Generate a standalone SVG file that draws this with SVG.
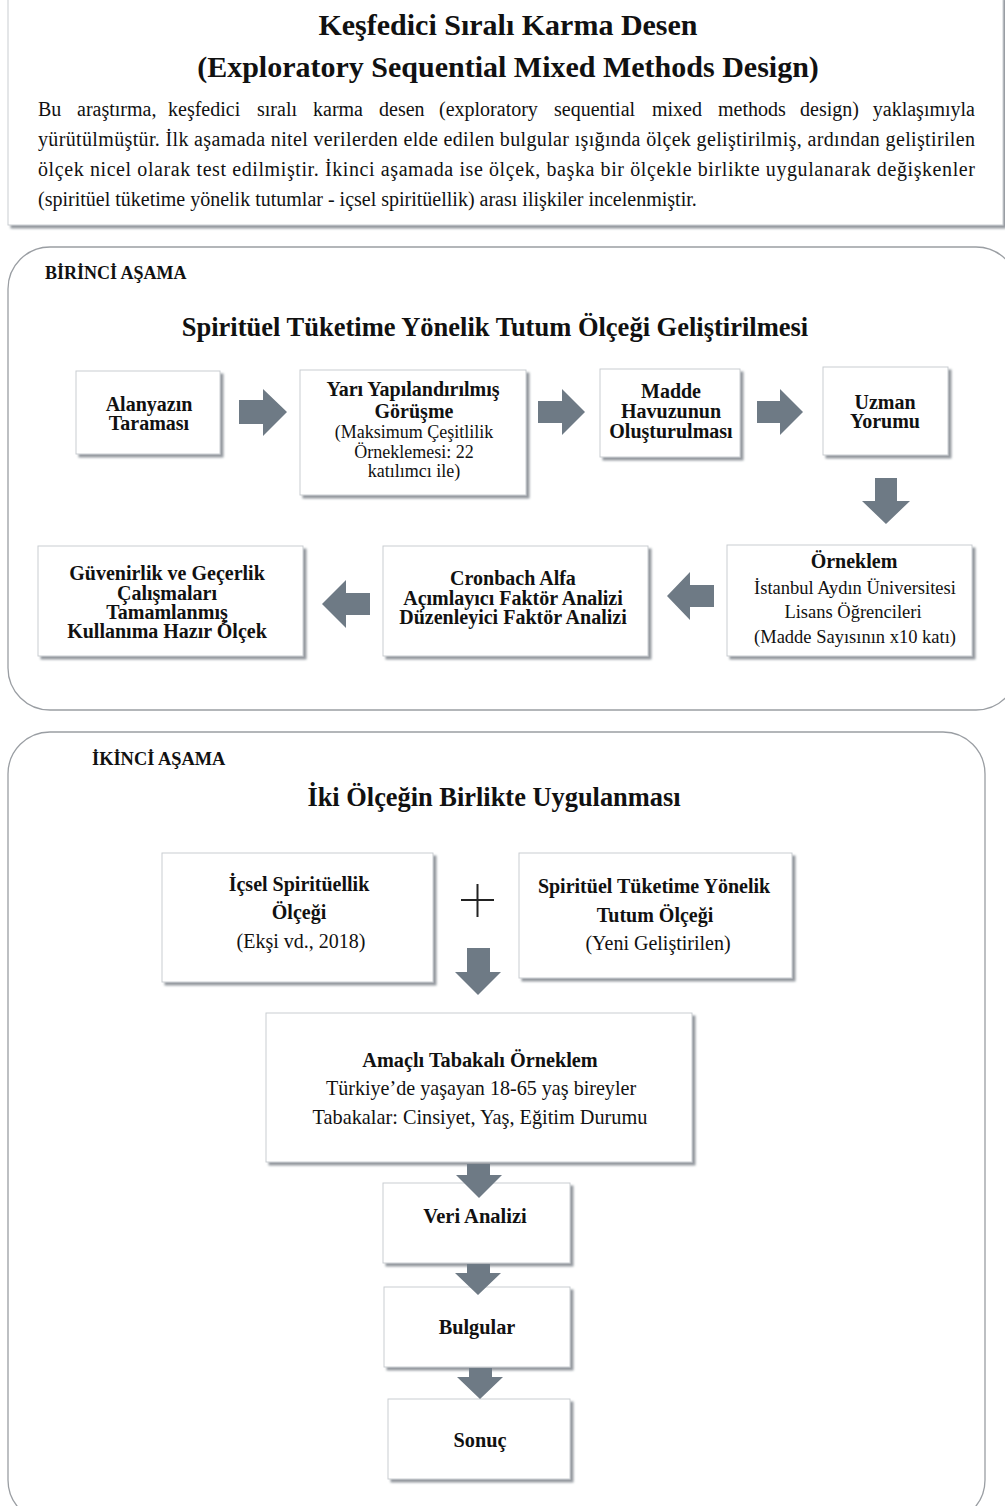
<svg xmlns="http://www.w3.org/2000/svg" width="1005" height="1506" viewBox="0 0 1005 1506">
<defs>
<filter id="sh" x="-5%" y="-5%" width="115%" height="120%">
<feDropShadow dx="3" dy="3" stdDeviation="1" flood-color="#6f7780" flood-opacity="0.75"/>
</filter>
<style>
.t{font-family:"Liberation Serif","Times New Roman",serif;fill:#111}
.b{font-weight:bold}
.c{text-anchor:middle}
.box{fill:#fff;stroke:#c9cdd1;stroke-width:1;filter:url(#sh)}
.panel{fill:#fff;stroke:#9a9ea3;stroke-width:1.3}
.arr{fill:#6e7a85}
</style>
</defs>
<rect width="1005" height="1506" fill="#fff"/>

<g id="header">
<rect class="box" x="8" y="-4" width="995" height="229"/>
<text class="t b c" x="508" y="35" font-size="30">Keşfedici Sıralı Karma Desen</text>
<text class="t b c" x="508" y="77" font-size="30">(Exploratory Sequential Mixed Methods Design)</text>
<text class="t" y="116" font-size="20"><tspan x="38">Bu</tspan><tspan x="77">araştırma,</tspan><tspan x="168">keşfedici</tspan><tspan x="257">sıralı</tspan><tspan x="313">karma</tspan><tspan x="379">desen</tspan><tspan x="439">(exploratory</tspan><tspan x="554">sequential</tspan><tspan x="652">mixed</tspan><tspan x="718">methods</tspan><tspan x="800">design)</tspan></text>
<text class="t" x="975" y="116" font-size="20" text-anchor="end">yaklaşımıyla</text>
<text class="t" x="38" y="146" font-size="20" textLength="937" lengthAdjust="spacing">yürütülmüştür. İlk aşamada nitel verilerden elde edilen bulgular ışığında ölçek geliştirilmiş, ardından geliştirilen</text>
<text class="t" x="38" y="176" font-size="20" textLength="937" lengthAdjust="spacing">ölçek nicel olarak test edilmiştir. İkinci aşamada ise ölçek, başka bir ölçekle birlikte uygulanarak değişkenler</text>
<text class="t" x="38" y="206" font-size="20">(spiritüel tüketime yönelik tutumlar - içsel spiritüellik) arası ilişkiler incelenmiştir.</text>
</g>

<g id="phase1">
<rect class="panel" x="8" y="247" width="1010" height="463" rx="42" ry="42"/>
<text class="t b" x="45" y="279" font-size="18">BİRİNCİ AŞAMA</text>
<text class="t b c" x="495" y="336" font-size="26.5">Spiritüel Tüketime Yönelik Tutum Ölçeği Geliştirilmesi</text>
</g>

<g id="n-alanyazin">
<rect class="box" x="76" y="371" width="144" height="83"/>
<text class="t b c" x="149" y="411" font-size="20">Alanyazın</text>
<text class="t b c" x="149" y="430" font-size="20">Taraması</text>
</g>
<g id="n-gorusme">
<rect class="box" x="300" y="370" width="226" height="125"/>
<text class="t b c" x="413" y="396" font-size="20">Yarı Yapılandırılmış</text>
<text class="t b c" x="414" y="418" font-size="20">Görüşme</text>
<text class="t c" x="414" y="438" font-size="18">(Maksimum Çeşitlilik</text>
<text class="t c" x="414" y="458" font-size="18">Örneklemesi: 22</text>
<text class="t c" x="414" y="477" font-size="18">katılımcı ile)</text>
</g>
<g id="n-madde">
<rect class="box" x="600" y="369" width="140" height="88"/>
<text class="t b c" x="671" y="398" font-size="20">Madde</text>
<text class="t b c" x="671" y="418" font-size="20">Havuzunun</text>
<text class="t b c" x="671" y="438" font-size="20">Oluşturulması</text>
</g>
<g id="n-uzman">
<rect class="box" x="823" y="367" width="125" height="88"/>
<text class="t b c" x="885" y="409" font-size="20">Uzman</text>
<text class="t b c" x="885" y="428" font-size="20">Yorumu</text>
</g>
<g id="n-orneklem">
<rect class="box" x="727" y="545" width="245" height="111"/>
<text class="t b c" x="854" y="568" font-size="20">Örneklem</text>
<text class="t c" x="855" y="594" font-size="18.5">İstanbul Aydın Üniversitesi</text>
<text class="t c" x="853" y="618" font-size="18.5">Lisans Öğrencileri</text>
<text class="t c" x="855" y="643" font-size="18.5">(Madde Sayısının x10 katı)</text>
</g>
<g id="n-cronbach">
<rect class="box" x="383" y="546" width="265" height="110"/>
<text class="t b c" x="513" y="585" font-size="20">Cronbach Alfa</text>
<text class="t b c" x="513" y="605" font-size="20">Açımlayıcı Faktör Analizi</text>
<text class="t b c" x="513" y="624" font-size="20">Düzenleyici Faktör Analizi</text>
</g>
<g id="n-guvenirlik">
<rect class="box" x="38" y="546" width="265" height="110"/>
<text class="t b c" x="167" y="580" font-size="20">Güvenirlik ve Geçerlik</text>
<text class="t b c" x="167" y="600" font-size="20">Çalışmaları</text>
<text class="t b c" x="167" y="619" font-size="20">Tamamlanmış</text>
<text class="t b c" x="167" y="638" font-size="20">Kullanıma Hazır Ölçek</text>
</g>

<g id="phase2">
<rect class="panel" x="8" y="732" width="977" height="790" rx="42" ry="42"/>
<text class="t b" x="92" y="765" font-size="18.4">İKİNCİ AŞAMA</text>
<text class="t b c" x="494" y="806" font-size="26.4">İki Ölçeğin Birlikte Uygulanması</text>
</g>
<g id="n-icsel">
<rect class="box" x="162" y="853" width="271" height="129"/>
<text class="t b c" x="299" y="891" font-size="20">İçsel Spiritüellik</text>
<text class="t b c" x="299" y="919" font-size="20">Ölçeği</text>
<text class="t c" x="301" y="948" font-size="20">(Ekşi vd., 2018)</text>
</g>
<g id="n-plus">
<path d="M461,900 H494 M477.5,884 V917" stroke="#222" stroke-width="2" fill="none"/>
</g>
<g id="n-stt">
<rect class="box" x="519" y="853" width="273" height="125"/>
<text class="t b c" x="654" y="893" font-size="20">Spiritüel Tüketime Yönelik</text>
<text class="t b c" x="655" y="922" font-size="20">Tutum Ölçeği</text>
<text class="t c" x="658" y="950" font-size="20">(Yeni Geliştirilen)</text>
</g>
<g id="n-amacli">
<rect class="box" x="266" y="1013" width="426" height="149"/>
<text class="t b c" x="480" y="1067" font-size="20.3">Amaçlı Tabakalı Örneklem</text>
<text class="t c" x="481" y="1095" font-size="20.1">Türkiye’de yaşayan 18-65 yaş bireyler</text>
<text class="t c" x="480" y="1124" font-size="20.3">Tabakalar: Cinsiyet, Yaş, Eğitim Durumu</text>
</g>
<g id="n-veri">
<rect class="box" x="383" y="1183" width="187" height="80"/>
<text class="t b c" x="475" y="1223" font-size="20.5">Veri Analizi</text>
</g>
<g id="n-bulgular">
<rect class="box" x="384" y="1287" width="186" height="80"/>
<text class="t b c" x="477" y="1334" font-size="20.3">Bulgular</text>
</g>
<g id="n-sonuc">
<rect class="box" x="388" y="1399" width="182" height="80"/>
<text class="t b c" x="480" y="1447" font-size="20.3">Sonuç</text>
</g>

<g id="connectors">
<path class="arr" d="M239,400 H263 V389 L287,412 L263,436 V424 H239 Z"/>
<path class="arr" d="M538,401 H562 V389 L585,412 L562,435 V423 H538 Z"/>
<path class="arr" d="M757,401 H780 V389 L803,412 L780,435 V423 H757 Z"/>
<path class="arr" d="M875,478 H897 V501 H910 L886,524 L862,501 H875 Z"/>
<path class="arr" d="M714,585 H690 V572 L667,596 L690,620 V607 H714 Z"/>
<path class="arr" d="M370,593 H346 V580 L322,604 L346,628 V615 H370 Z"/>
<path class="arr" d="M467,948 H490 V972 H501 L478,995 L455,972 H467 Z"/>
<path class="arr" d="M467,1164 H490 V1175 H502 L479,1198 L456,1175 H467 Z"/>
<path class="arr" d="M467,1264 H490 V1273 H501 L478,1295 L455,1273 H467 Z"/>
<path class="arr" d="M469,1368 H492 V1377 H503 L480,1399 L457,1377 H469 Z"/>
</g>
</svg>
